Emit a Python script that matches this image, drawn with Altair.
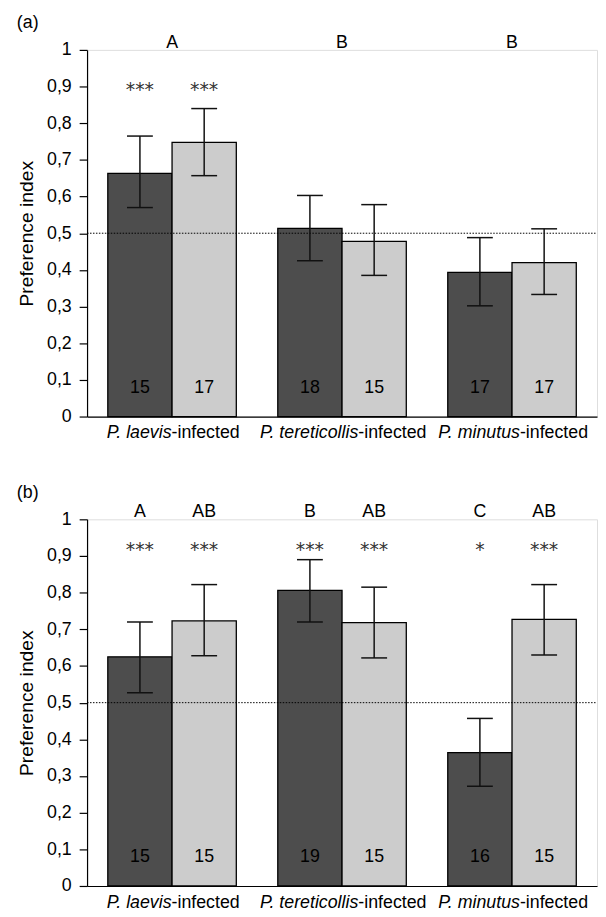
import altair as alt
import pandas as pd

# ---------------- data ----------------
groups = ["P. laevis", "P. tereticollis", "P. minutus"]
suffix = "-infected"
series = ["dark", "light"]
ref_level = [0.5]
y_ticks = [0, 0.1, 0.2, 0.3, 0.4, 0.5, 0.6, 0.7, 0.8, 0.9, 1.0]

# panel (a)
a_dark = [0.663, 0.513, 0.393]
a_dark_lo = [0.570, 0.425, 0.302]
a_dark_hi = [0.765, 0.603, 0.488]
a_light = [0.748, 0.478, 0.420]
a_light_lo = [0.657, 0.385, 0.333]
a_light_hi = [0.840, 0.578, 0.512]
a_n_dark = [15, 18, 17]
a_n_light = [17, 15, 17]
a_letters = ["A", "B", "B"]
a_stars_dark = ["***", "", ""]
a_stars_light = ["***", "", ""]

# panel (b)
b_dark = [0.625, 0.806, 0.364]
b_dark_lo = [0.527, 0.720, 0.272]
b_dark_hi = [0.720, 0.890, 0.457]
b_light = [0.723, 0.718, 0.727]
b_light_lo = [0.628, 0.622, 0.630]
b_light_hi = [0.822, 0.815, 0.822]
b_n_dark = [15, 19, 16]
b_n_light = [15, 15, 15]
b_letters_dark = ["A", "B", "C"]
b_letters_light = ["AB", "AB", "AB"]
b_stars_dark = ["***", "***", "*"]
b_stars_light = ["***", "***", "***"]

# ---------------- layout constants ----------------
W, H = 516, 371
BAR_W = 0.378
CAP = 0.076
FONT = "Liberation Sans"
FS = 18
PX_PER_UNIT = W / 3.0
STAR_Y = {"a": 0.874, "b": 0.900}
N_Y = 0.078
LETTER_Y = 1.0

# Arial / Liberation Sans advance widths (per 1000 em) to split mixed-style labels
ADV = {" ": 278, ".": 278, "-": 333, "P": 667, "a": 556, "c": 500, "d": 556,
       "e": 556, "f": 278, "i": 222, "l": 222, "m": 833, "n": 556, "o": 556,
       "r": 333, "s": 500, "t": 278, "u": 556, "v": 500}


def text_w(s):
    return sum(ADV.get(ch, 556) for ch in s) * FS / 1000.0


def bars_frame(key, dark, dlo, dhi, light, llo, lhi, nd, nl, sd, sl, ld=None, ll=None):
    rows = []
    for i in range(3):
        for s, v, lo, hi, n, st, let in [
            ("dark", dark[i], dlo[i], dhi[i], nd[i], sd[i], ld[i] if ld else ""),
            ("light", light[i], llo[i], lhi[i], nl[i], sl[i], ll[i] if ll else ""),
        ]:
            x0 = i + 0.5 - BAR_W if s == "dark" else i + 0.5
            x1 = x0 + BAR_W
            cx = (x0 + x1) / 2
            rows.append(dict(group=groups[i], series=s, value=v, lo=lo, hi=hi,
                             n=n, stars=st, letter=let, x0=x0, x1=x1, cx=cx,
                             c0=cx - CAP, c1=cx + CAP, zero=0.0,
                             sy=STAR_Y[key], ny=N_Y, ly=LETTER_Y))
    return pd.DataFrame(rows)


def labels_frame():
    rows = []
    for i, g in enumerate(groups):
        tot = text_w(g) + text_w(suffix)
        junction = i + 0.5 + (text_w(g) - tot / 2) / PX_PER_UNIT
        rows.append(dict(sp=g, suf=suffix, j=junction, zero=0.0))
    return pd.DataFrame(rows)


xscale = alt.Scale(domain=[0, 3], nice=False, zero=False)
yscale = alt.Scale(domain=[0, 1], nice=False)

X_AXIS = alt.Axis(labels=False, ticks=False, title=None, grid=False,
                  domainColor="black", domainWidth=1.2)
Y_AXIS = alt.Axis(values=y_ticks, grid=False, title="Preference index",
                  labelExpr="replace(format(datum.value, '.1~f'), '.', ',')",
                  labelOverlap=False, labelBound=False,
                  tickSize=8, tickColor="black", domainColor="black",
                  domainWidth=1.2, tickWidth=1.2,
                  labelPadding=8, titlePadding=10,
                  labelFontSize=FS, titleFontSize=19.5,
                  labelColor="black", titleColor="black",
                  titleFontWeight="normal", labelFont=FONT, titleFont=FONT)


def X(field):
    return alt.X(field, scale=xscale, axis=X_AXIS)


def Y(field):
    return alt.Y(field, scale=yscale, axis=Y_AXIS)


def panel(df, title, letters_df=None):
    base = alt.Chart(df)
    bars = base.mark_bar(stroke="black", strokeWidth=1.3).encode(
        x=X("x0:Q"), x2="x1:Q",
        y=Y("value:Q"), y2="zero:Q",
        color=alt.Color("series:N", scale=alt.Scale(domain=series, range=["#4d4d4d", "#cccccc"]),
                        legend=None),
    )
    err = base.mark_rule(color="#111", strokeWidth=1.5).encode(
        x=X("cx:Q"), y=Y("lo:Q"), y2="hi:Q")
    cap_lo = base.mark_rule(color="#111", strokeWidth=1.5).encode(
        x=X("c0:Q"), x2="c1:Q", y=Y("lo:Q"))
    cap_hi = base.mark_rule(color="#111", strokeWidth=1.5).encode(
        x=X("c0:Q"), x2="c1:Q", y=Y("hi:Q"))
    refdf = pd.DataFrame({"ref": ref_level, "xa": [0.0], "xb": [3.0]})
    dotted = alt.Chart(refdf).mark_rule(
        color="black", strokeWidth=1, strokeDash=[1.5, 1.5]).encode(
        y=Y("ref:Q"), x=X("xa:Q"), x2="xb:Q")
    stars = base.mark_text(font="DejaVu Sans", fontSize=19, color="#333",
                           baseline="alphabetic").encode(
        x=X("cx:Q"), y=Y("sy:Q"), text="stars:N")
    ns = base.mark_text(font=FONT, fontSize=FS, color="black", baseline="middle").encode(
        x=X("cx:Q"), y=Y("ny:Q"), text="n:Q")
    lab = labels_frame()
    lab_it = alt.Chart(lab).mark_text(font=FONT, fontSize=FS, fontStyle="italic",
                                      align="right", baseline="top", dy=8,
                                      color="black").encode(
        x=X("j:Q"), y=Y("zero:Q"), text="sp:N")
    lab_rg = alt.Chart(lab).mark_text(font=FONT, fontSize=FS, align="left",
                                      baseline="top", dy=8, color="black").encode(
        x=X("j:Q"), y=Y("zero:Q"), text="suf:N")
    src = base if letters_df is None else alt.Chart(letters_df)
    letters = src.mark_text(font=FONT, fontSize=FS, color="black",
                            baseline="alphabetic", dy=-2).encode(
        x=X("cx:Q"), y=Y("ly:Q"), text="letter:N")
    return alt.layer(bars, dotted, err, cap_lo, cap_hi, stars, ns, letters,
                     lab_it, lab_rg).properties(
        width=W, height=H,
        title=alt.TitleParams(title, anchor="start", frame="bounds", fontSize=FS,
                              font=FONT, fontWeight="normal", color="black", offset=2))


df_a = bars_frame("a", a_dark, a_dark_lo, a_dark_hi, a_light, a_light_lo, a_light_hi,
                  a_n_dark, a_n_light, a_stars_dark, a_stars_light)
letters_a = pd.DataFrame({"letter": a_letters, "cx": [i + 0.5 for i in range(3)],
                          "ly": [LETTER_Y] * 3})
df_b = bars_frame("b", b_dark, b_dark_lo, b_dark_hi, b_light, b_light_lo, b_light_hi,
                  b_n_dark, b_n_light, b_stars_dark, b_stars_light,
                  b_letters_dark, b_letters_light)

chart = alt.vconcat(
    panel(df_a, "(a)", letters_a),
    panel(df_b, "(b)"),
    spacing=40,
).properties(
    padding={"left": 8, "top": 0, "right": 0, "bottom": 0}
).configure_view(strokeWidth=0, stroke="transparent").configure_axis(
    labelOverlap=False, grid=False
).configure(font=FONT)

chart.save("out.html", embed_options={"renderer": "svg", "actions": False})
